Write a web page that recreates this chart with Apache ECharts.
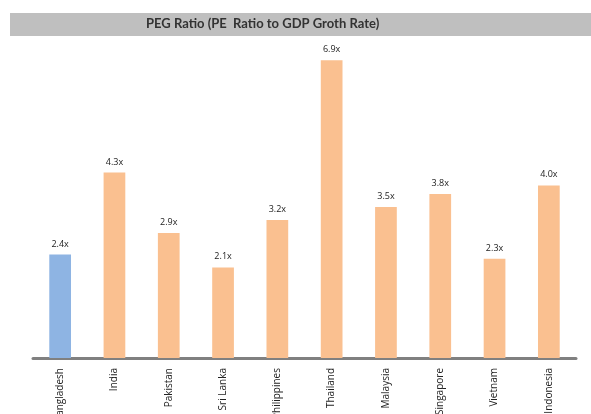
<!DOCTYPE html>
<html>
<head>
<meta charset="utf-8">
<script src="https://cdn.jsdelivr.net/npm/echarts@6/dist/echarts.min.js"></script>
<style>
  html, body { margin: 0; padding: 0; background: #fff; }
  #chart { width: 591px; height: 414px; }
</style>
</head>
<body>
<div id="chart"></div>
<script>
const countries = ['Bangladesh', 'India', 'Pakistan', 'Sri Lanka', 'Philippines', 'Thailand', 'Malaysia', 'Singapore', 'Vietnam', 'Indonesia'];
const pegRatio = [2.4, 4.3, 2.9, 2.1, 3.2, 6.9, 3.5, 3.8, 2.3, 4.0];
const highlightCountry = 'Bangladesh';

const chart = echarts.init(document.getElementById('chart'), null, { renderer: 'canvas' });

chart.setOption({
  backgroundColor: '#ffffff',
  animation: false,
  graphic: [
    { type: 'rect', left: 10, top: 13, shape: { width: 600, height: 23 }, style: { fill: '#bfbfbf' }, z: 0 },
    {
      type: 'text', left: 146, top: 17,
      style: { text: 'PEG Ratio (PE  Ratio to GDP Groth Rate)', font: 'bold 13px Lato, "Open Sans", sans-serif', fill: '#333333' }
    }
  ],
  grid: { left: 33, right: 15, top: 56, bottom: 56, containLabel: false, outerBoundsMode: 'none' },
  xAxis: {
    type: 'category',
    data: countries,
    axisLine: { lineStyle: { color: '#808080', width: 3 } },
    axisTick: { show: false },
    axisLabel: { rotate: 90, interval: 0, margin: 10, fontSize: 10, color: '#222', fontFamily: '"Open Sans", sans-serif' }
  },
  yAxis: {
    type: 'value', min: 0, max: 7,
    show: false, splitLine: { show: false }
  },
  series: [{
    type: 'bar',
    barWidth: '40%',
    data: pegRatio.map((v, i) => ({
      value: v,
      itemStyle: { color: countries[i] === highlightCountry ? '#8eb4e3' : '#fac090' }
    })),
    label: {
      show: true, position: 'top', distance: 6,
      fontSize: 9, color: '#222', fontFamily: '"Open Sans", sans-serif',
      formatter: p => p.value.toFixed(1) + 'x'
    }
  }]
});
</script>
</body>
</html>
